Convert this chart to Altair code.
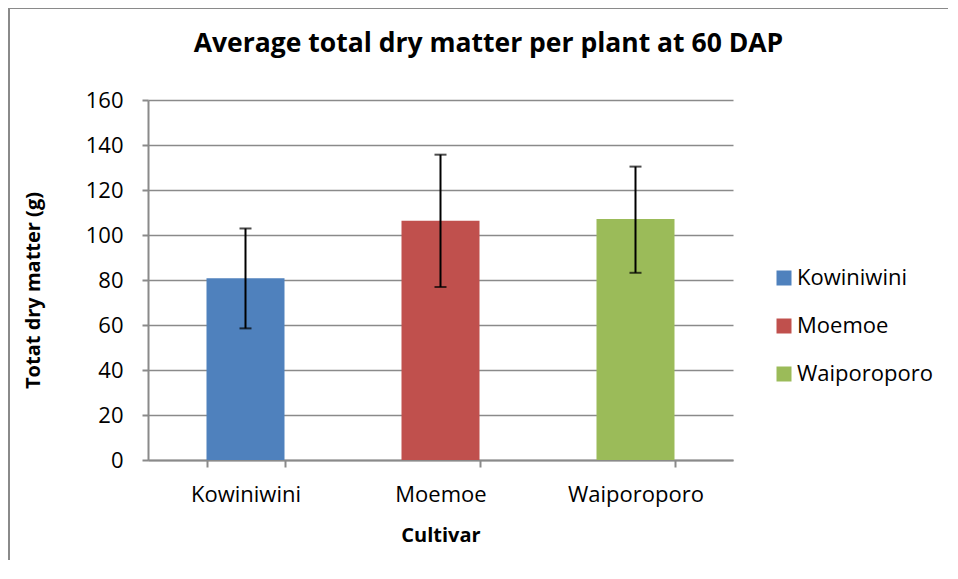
import altair as alt
import pandas as pd

cultivars = ["Kowiniwini", "Moemoe", "Waiporoporo"]
means = [80.8, 106.3, 107.1]
lower = [58.5, 76.9, 83.2]
upper = [102.9, 135.7, 130.4]
colors = ["#4F81BD", "#C0504D", "#9BBB59"]
y_ticks = [0, 20, 40, 60, 80, 100, 120, 140, 160]

df = pd.DataFrame({"Cultivar": cultivars, "mean": means, "lower": lower, "upper": upper})

FONT = "Open Sans"
GRAY = "#8a8a8a"

x_enc = alt.X(
    "Cultivar:N",
    sort=cultivars,
    scale=alt.Scale(paddingInner=0.6, paddingOuter=0.3),
    axis=alt.Axis(
        title="Cultivar", titleFont=FONT, titleFontSize=20, titleFontWeight="bold",
        titleColor="#000", titleY=75, titleBaseline="middle",
        labelFont=FONT, labelFontSize=22, labelColor="#000", labelAngle=0,
        labelPadding=17, tickBand="extent", tickSize=7, tickColor=GRAY,
        tickWidth=2, domainColor=GRAY, domainWidth=2, grid=False,
    ),
)

bars = alt.Chart(df).mark_bar().encode(
    x=x_enc,
    y=alt.Y(
        "mean:Q",
        scale=alt.Scale(domain=[0, 160], nice=False),
        axis=alt.Axis(
            title="Totat dry matter (g)", titleFont=FONT, titleFontSize=20,
            titleFontWeight="bold", titleColor="#000", titleX=-115, titleY=190,
            titleBaseline="middle", titleAlign="center",
            values=y_ticks, labelFont=FONT, labelFontSize=22, labelColor="#000",
            labelPadding=19, tickSize=6, tickColor=GRAY, tickWidth=2,
            domainColor=GRAY, domainWidth=2, grid=True, gridColor=GRAY, gridWidth=1.5,
        ),
    ),
    color=alt.Color(
        "Cultivar:N",
        sort=cultivars,
        scale=alt.Scale(domain=cultivars, range=colors),
        legend=alt.Legend(
            title=None, orient="none", legendX=625, legendY=167,
            symbolType="square", symbolSize=225, symbolStrokeWidth=0,
            labelFont=FONT, labelFontSize=22, labelColor="#000",
            rowPadding=26, labelOffset=2, padding=0,
        ),
    ),
)

err_rule = alt.Chart(df).mark_rule(color="#000", strokeWidth=2).encode(
    x=alt.X("Cultivar:N", sort=cultivars),
    y="lower:Q",
    y2="upper:Q",
)
cap_lo = alt.Chart(df).mark_tick(color="#000", size=12, thickness=2, orient="horizontal").encode(
    x=alt.X("Cultivar:N", sort=cultivars), y="lower:Q"
)
cap_hi = alt.Chart(df).mark_tick(color="#000", size=12, thickness=2, orient="horizontal").encode(
    x=alt.X("Cultivar:N", sort=cultivars), y="upper:Q"
)

border_top = alt.Chart(df).mark_rule(stroke=GRAY, strokeWidth=2).encode(
    x=alt.value(-140), x2=alt.value(800), y=alt.value(-92)
)
border_left = alt.Chart(df).mark_rule(stroke=GRAY, strokeWidth=2).encode(
    x=alt.value(-139), y=alt.value(-93), y2=alt.value(460)
)

chart = alt.layer(bars, err_rule, cap_lo, cap_hi, border_top, border_left).properties(
    width=585,
    height=360,
    autosize=alt.AutoSizeParams(type="none"),
    padding={"left": 140, "top": 92, "right": 217, "bottom": 100},
    title=alt.TitleParams(
        "Average total dry matter per plant at 60 DAP",
        font=FONT, fontSize=26.5, fontWeight="bold", color="#000",
        anchor="middle", dx=48, offset=-78, baseline="bottom",
    ),
).configure_view(stroke=None)

chart.save("out.html", embed_options={"renderer": "svg", "actions": False})
